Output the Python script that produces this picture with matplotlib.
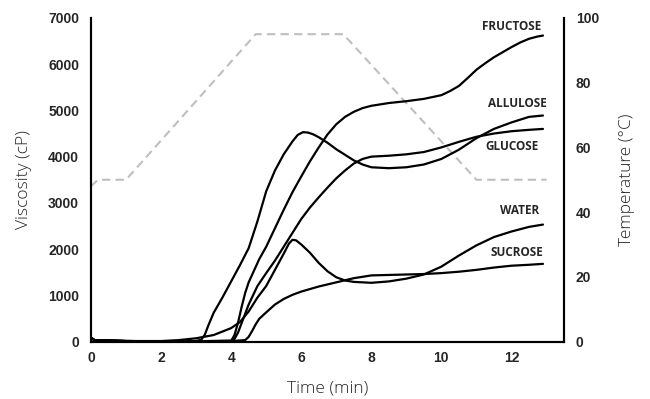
import matplotlib
matplotlib.use("Agg")
import matplotlib.pyplot as plt

# viscosity traces (cP) against time (min)
fructose_t = [0, 0.1, 1, 2, 3, 4, 4.1, 4.2, 4.3, 4.4, 4.5, 4.65, 4.8, 5, 5.25, 5.5,
              5.75, 6, 6.25, 6.5, 6.75, 7, 7.25, 7.5, 7.75, 8, 8.5, 9, 9.5, 10,
              10.25, 10.5, 10.75, 11, 11.25, 11.5, 11.75, 12, 12.25, 12.5, 12.75, 12.9]
fructose = [80, 30, 10, 5, 5, 10, 150, 420, 750, 1050, 1280, 1530, 1780, 2050, 2450,
            2850, 3230, 3570, 3900, 4200, 4480, 4700, 4860, 4970, 5050, 5100, 5160,
            5200, 5250, 5330, 5420, 5530, 5700, 5880, 6020, 6150, 6260, 6370, 6470,
            6550, 6600, 6620]

allulose_t = [0, 0.1, 1, 2, 3, 3.15, 3.25, 3.35, 3.5, 3.75, 4, 4.25, 4.5, 4.75, 5,
              5.25, 5.5, 5.75, 5.9, 6.05, 6.2, 6.35, 6.5, 6.75, 7, 7.25, 7.5, 7.75,
              8, 8.5, 9, 9.5, 10, 10.5, 11, 11.5, 12, 12.5, 12.9]
allulose = [80, 30, 10, 5, 10, 40, 150, 350, 620, 950, 1300, 1650, 2020, 2600, 3250,
            3700, 4050, 4330, 4470, 4530, 4520, 4480, 4420, 4300, 4160, 4040, 3920,
            3830, 3770, 3750, 3770, 3830, 3950, 4150, 4400, 4600, 4740, 4860, 4890]

glucose_t = [0, 0.1, 1, 2, 3, 4, 4.1, 4.2, 4.3, 4.4, 4.5, 4.75, 5, 5.25, 5.5, 5.75,
             6, 6.25, 6.5, 6.75, 7, 7.25, 7.5, 7.75, 8, 8.5, 9, 9.5, 10, 10.5, 11,
             11.5, 12, 12.5, 12.9]
glucose = [80, 30, 10, 5, 5, 20, 60, 200, 400, 600, 800, 1200, 1480, 1750, 2050, 2350,
           2650, 2900, 3120, 3330, 3530, 3700, 3850, 3950, 4000, 4020, 4050, 4100,
           4200, 4320, 4430, 4500, 4550, 4580, 4600]

water_t = [0, 0.1, 1, 2, 2.5, 3, 3.5, 4, 4.25, 4.5, 4.75, 5, 5.25, 5.5, 5.65, 5.75,
           5.85, 6, 6.25, 6.5, 6.75, 7, 7.25, 7.5, 8, 8.5, 9, 9.5, 10, 10.5, 11,
           11.5, 12, 12.5, 12.9]
water = [80, 30, 10, 10, 30, 70, 140, 290, 420, 650, 950, 1200, 1550, 1900, 2120,
         2200, 2190, 2100, 1920, 1700, 1520, 1390, 1320, 1290, 1270, 1300, 1360,
         1450, 1620, 1860, 2080, 2260, 2380, 2480, 2530]

sucrose_t = [0, 0.1, 1, 2, 3, 4, 4.4, 4.5, 4.6, 4.7, 4.8, 5, 5.25, 5.5, 5.75, 6,
             6.5, 7, 7.5, 8, 8.5, 9, 9.5, 10, 10.5, 11, 11.5, 12, 12.5, 12.9]
sucrose = [80, 30, 10, 5, 5, 10, 30, 100, 230, 370, 490, 630, 800, 920, 1010, 1080,
           1190, 1280, 1370, 1430, 1440, 1450, 1460, 1480, 1510, 1550, 1600, 1640,
           1660, 1680]

# temperature profile (°C)
temp_time = [0, 0.2, 1.0, 4.7, 7.2, 11.0, 13.0]
temp = [48, 50, 50, 95, 95, 50, 50]

labels = ["FRUCTOSE", "ALLULOSE", "GLUCOSE", "WATER", "SUCROSE"]
label_x = [12.84, 13.0, 12.78, 12.8, 12.92]
label_y = [6816, 5150, 4215, 2830, 1920]

fig = plt.figure(figsize=(6.5, 3.99), dpi=100)
ax = fig.add_axes([0.14, 0.1441, 0.7277, 0.8108])
ax2 = ax.twinx()

ax2.plot(temp_time, temp, color="#BFBFBF", lw=1.5, dashes=(4, 2.5))
series = [(fructose_t, fructose), (allulose_t, allulose), (glucose_t, glucose),
          (water_t, water), (sucrose_t, sucrose)]
for xs, ys in series:
    ax.plot(xs, ys, color="black", lw=1.6, solid_joinstyle="round",
            solid_capstyle="round")
ax.set_zorder(ax2.get_zorder() + 1)
ax.patch.set_visible(False)

for name, x, y in zip(labels, label_x, label_y):
    ax.text(x, y, name, ha="right", va="center", fontsize=8.5,
            fontweight="bold", family="Open Sans", color="#262626")

ax.set_xlim(0, 13.5)
ax.set_ylim(0, 7000)
ax2.set_ylim(0, 100)
ax.set_xticks([0, 2, 4, 6, 8, 10, 12])
ax.set_yticks(range(0, 7001, 1000))
ax2.set_yticks(range(0, 101, 20))

tick_font = dict(family="Liberation Sans", weight="bold", size=10)
for a in (ax, ax2):
    a.spines["top"].set_visible(False)
    for s in ("left", "right", "bottom"):
        a.spines[s].set_linewidth(1.5)
        a.spines[s].set_color("black")
    a.tick_params(length=0, pad=8.5, labelcolor="#262626")
    for lab in a.get_xticklabels() + a.get_yticklabels():
        lab.set(**tick_font)
ax.tick_params(axis="x", pad=7)

label_font = dict(family="Open Sans", size=12.5, color="#262626", weight="light")
ax.set_xlabel("Time (min)", labelpad=11, **label_font)
ax.set_ylabel("Viscosity (cP)", labelpad=12, **label_font)
ax2.set_ylabel("Temperature (°C)", labelpad=14, **label_font)

fig.savefig("out.png", dpi=100)
